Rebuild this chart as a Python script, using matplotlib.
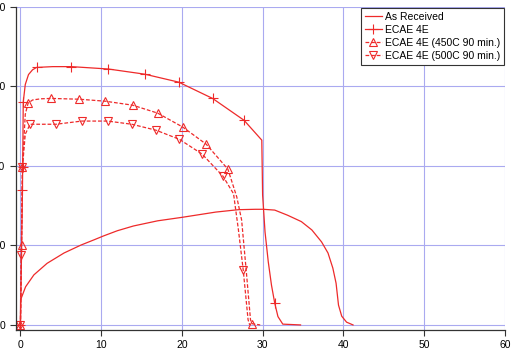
import numpy as np
import matplotlib
matplotlib.use("Agg")
import matplotlib.pyplot as plt

plt.rcParams['font.family'] = ['Liberation Sans', 'DejaVu Sans']

# As Received
ar_x = [0, 0.02, 0.64, 1.67, 3.3, 5.4, 7.5, 9.1, 10.3, 12.0, 14.0, 17.0, 20.1, 24.2,
        27.0, 29.1, 30.1, 31.5, 33.1, 34.8, 36.1, 37.3, 38.1, 38.7, 39.1, 39.4,
        39.8, 40.4, 41.2]
ar_y = [0, 63, 96, 126, 155, 181, 201, 214, 224, 237, 249, 262, 271, 284,
        290, 291, 291, 289, 276, 260, 239, 209, 181, 143, 105, 50,
        22, 7, 0]

# ECAE 4E
e4_x = [0, 0.15, 0.25, 0.28, 0.35, 0.6, 1.0, 1.5, 2.0, 4.0, 6.3, 10.9, 15.4, 19.6,
        23.8, 27.7, 29.9, 30.0, 30.3, 30.7, 31.1, 31.5, 31.9, 32.5, 34.7]
e4_y = [0, 200, 339, 398, 561, 605, 630, 642, 648, 650, 650, 644, 631, 611,
        570, 515, 465, 327, 234, 159, 100, 55, 21, 2, 0]
e4_marks = [0, 2, 3, 4, 8, 10, 11, 12, 13, 14, 15, 21]

# ECAE 4E (450C 90 min.)
h450_x = [0, 0.15, 0.25, 0.6, 0.95, 1.5, 2.5, 3.8, 7.3, 10.5, 13.9, 17.0, 20.1, 23.0,
          25.7, 26.8, 27.4, 28.0, 28.5, 28.7, 29.7]
h450_y = [0, 200, 397, 530, 558, 566, 569, 570, 568, 563, 553, 533, 498, 455,
          392, 322, 264, 130, 13, 3, 0]
h450_marks = [0, 1, 2, 4, 7, 8, 9, 10, 11, 12, 13, 14, 19]

# ECAE 4E (500C 90 min.)
h500_x = [0, 0.1, 0.25, 0.6, 1.2, 2.5, 4.4, 7.6, 10.8, 13.8, 16.8, 19.7, 22.5, 25.1,
          26.4, 27.0, 27.6, 28.2, 28.4]
h500_y = [0, 176, 397, 480, 505, 505, 505, 513, 513, 505, 490, 467, 430, 374,
          330, 240, 138, 13, 0]
h500_marks = [0, 1, 2, 4, 6, 7, 8, 9, 10, 11, 12, 13, 16]

red = '#ee2a2a'

fig = plt.figure(figsize=(5.13, 3.51), dpi=100)
ax = fig.add_axes([0.031, 0.06, 0.953, 0.92])

ax.plot(ar_x, ar_y, '-', color=red, lw=0.9, label='As Received')
ax.plot(e4_x, e4_y, '-', color=red, lw=0.9, marker='+', ms=7, mew=0.8,
        markevery=e4_marks, label='ECAE 4E')
ax.plot(h450_x, h450_y, color=red, lw=0.9, dashes=(3, 1.5), marker='^', ms=6,
        mfc='none', mew=0.8, markevery=h450_marks, label='ECAE 4E (450C 90 min.)')
ax.plot(h500_x, h500_y, color=red, lw=0.9, dashes=(3, 1.5), marker='v', ms=6,
        mfc='none', mew=0.8, markevery=h500_marks, label='ECAE 4E (500C 90 min.)')

ax.set_xlim(-0.56, 60)
ax.set_ylim(-12.6, 800)
ax.set_xticks(np.arange(0, 61, 10))
ax.set_yticks(np.arange(0, 801, 200))
ax.grid(True, color='#aaaaf0', lw=0.8, ls='-')
ax.set_axisbelow(True)

for s in ['top', 'right']:
    ax.spines[s].set_visible(False)
for s in ['left', 'bottom']:
    ax.spines[s].set_color('#333333')
    ax.spines[s].set_linewidth(0.9)
ax.tick_params(labelsize=7.5, length=4, width=0.8, color='#333333')

leg = ax.legend(loc='upper right', fontsize=7.5, fancybox=False, framealpha=1,
                edgecolor='#333333', handlelength=1.6, handletextpad=0.3,
                labelspacing=0.3, borderpad=0.35, borderaxespad=0.1)
leg.get_frame().set_linewidth(0.8)

fig.savefig('out.png', dpi=100)
